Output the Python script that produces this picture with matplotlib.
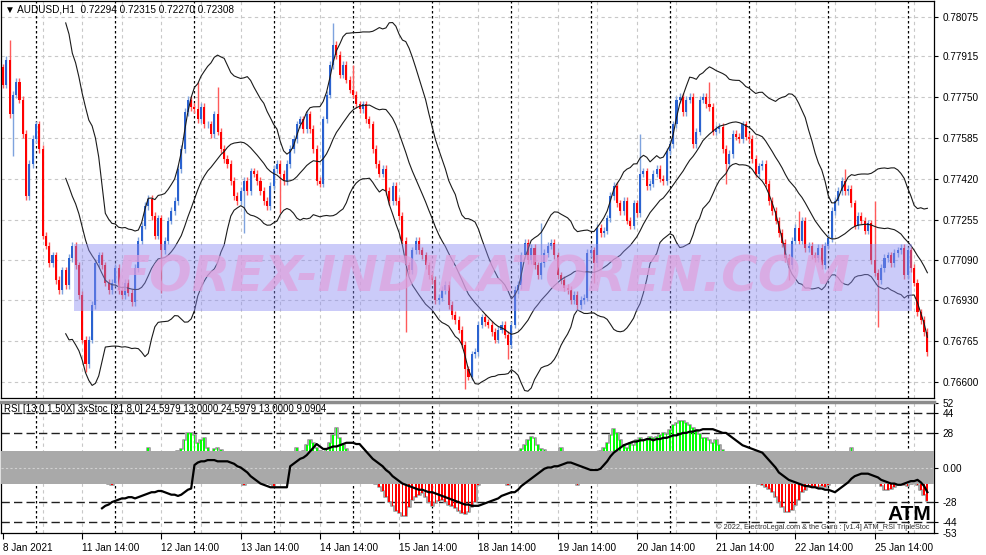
import numpy as np
import pandas as pd
import matplotlib
matplotlib.use("Agg")
import matplotlib.pyplot as plt
from matplotlib.patches import Rectangle

plt.rcParams['font.family'] = ['Liberation Sans', 'DejaVu Sans']

# ---- values (AUDUSD H1, one close per bar) ----
closes = [
    0.7780, 0.7790, 0.7768, 0.7776, 0.7781, 0.7774, 0.7760, 0.7735, 0.7748, 0.7758,
    0.7764, 0.7754, 0.7719, 0.7715, 0.7708, 0.7711, 0.7701, 0.7697, 0.7705, 0.7699,
    0.7710, 0.7715, 0.7707, 0.7695, 0.7677, 0.7667, 0.7677, 0.7691, 0.7708, 0.7711,
    0.7707, 0.7700, 0.7697, 0.7700, 0.7706, 0.7697, 0.7695, 0.7700, 0.7696, 0.7692,
    0.7706, 0.7717, 0.7723, 0.7731, 0.7734, 0.7727, 0.7719, 0.7726, 0.7713, 0.7717,
    0.7725, 0.7729, 0.7733, 0.7746, 0.7754, 0.7769, 0.7774, 0.7771, 0.7770, 0.7766,
    0.7771, 0.7764, 0.7764, 0.7760, 0.7768, 0.7761, 0.7754, 0.7750, 0.7748, 0.7741,
    0.7735, 0.7733, 0.7737, 0.7741, 0.7737, 0.7745, 0.7744, 0.7741, 0.7737, 0.7733,
    0.7731, 0.7739, 0.7746, 0.7748, 0.7744, 0.7741, 0.7748, 0.7754, 0.7758, 0.7764,
    0.7766, 0.7762, 0.7768, 0.7762, 0.7754, 0.7741, 0.7740, 0.7766, 0.7776, 0.7788,
    0.7796, 0.7792, 0.7784, 0.7788, 0.7782, 0.7778, 0.7776, 0.7772, 0.7770, 0.7772,
    0.7766, 0.7764, 0.7754, 0.7748, 0.7744, 0.7746, 0.7737, 0.7733, 0.7739, 0.7733,
    0.7727, 0.7717, 0.7707, 0.7705, 0.7713, 0.7717, 0.7713, 0.7711, 0.7707, 0.7703,
    0.7701, 0.7693, 0.7694, 0.7697, 0.7699, 0.7691, 0.7687, 0.7685, 0.7681, 0.7675,
    0.7665,
    0.7662, 0.7671, 0.7672, 0.7683, 0.7686, 0.7684, 0.7683, 0.7680, 0.7677, 0.7681,
    0.7683, 0.7679, 0.7675, 0.7683, 0.7697, 0.7699, 0.7711, 0.7716, 0.7709, 0.7714,
    0.7707, 0.7703, 0.7708, 0.7712, 0.7715, 0.7716, 0.7711, 0.7703, 0.7701, 0.7698,
    0.7697, 0.7693, 0.7695, 0.7691, 0.7693, 0.7694, 0.7712, 0.7713, 0.7708, 0.7722,
    0.7720, 0.7721, 0.7726, 0.7735, 0.7739, 0.7732, 0.7729, 0.7733, 0.7725, 0.7723,
    0.7732, 0.7728, 0.7744, 0.7745, 0.7739, 0.7740, 0.7744, 0.7746, 0.7742, 0.7741,
    0.7753, 0.7756, 0.7764, 0.7774, 0.7775, 0.7769, 0.7774, 0.7775, 0.7756, 0.7761,
    0.7774, 0.7775, 0.7772, 0.7771, 0.7761, 0.7762, 0.7763, 0.7754, 0.7748, 0.7752,
    0.7760, 0.7759, 0.7758, 0.7764, 0.7759, 0.7758, 0.7750, 0.7744, 0.7747, 0.7748,
    0.7740, 0.7733, 0.7729, 0.7725, 0.7720, 0.7716, 0.7710, 0.7707, 0.7717, 0.7722,
    0.7717, 0.7725, 0.7714, 0.7715, 0.7711, 0.7710, 0.7714, 0.7707, 0.7715, 0.7718,
    0.7729, 0.7733, 0.7737, 0.7741, 0.7737, 0.7738, 0.7732, 0.7723, 0.7727, 0.7725,
    0.7721, 0.7724, 0.7709, 0.7704, 0.7701, 0.7706, 0.7710, 0.7711, 0.7708, 0.7712,
    0.7713, 0.7714, 0.7703, 0.7713, 0.7706, 0.7700, 0.7688, 0.7685, 0.7680, 0.7672,
]
first_open = 0.7787

# long wicks that stand out (bar index -> extreme)
high_wicks = {2: 0.7798, 59: 0.7781, 65: 0.7779, 100: 0.7805, 106: 0.7788,
              163: 0.7724, 193: 0.7760, 214: 0.7781, 241: 0.7729, 255: 0.7746,
              264: 0.7733}
low_wicks = {3: 0.7751, 25: 0.7664, 48: 0.7696, 73: 0.7720, 84: 0.7728,
             122: 0.7680, 140: 0.7657, 153: 0.7669, 179: 0.7700, 219: 0.7740,
             238: 0.7701, 265: 0.7682}

# RSI histogram of the lower window
osc_hist = [np.nan] * 14 + [
    -4, -6, -8, -9, -10, -8, -6, -5, -7, -9,
    -10, -11, -12, -11, -10, -9, -11, -12, -13, -14,
    -12, -10, -8, -6, -4, -2, 2, 5, 8, 10,
    16, 11, 9, 10, 11, 12, 12, 11, 12, 13,
    15, 22, 28, 28, 26, 20, 22, 24, 16, 12,
    15, 16, 14, 10, 6, 2, -3, -8, -12, -14,
    -12, -10, -11, -12, -10, -11, -12, -13, -15, -12,
    -8, -4, 2, 8, 12, 16, 12, 13, 18, 22,
    20, 16, 13, 12, 15, 20, 26, 32, 24, 18,
    15, 12, 8, 4, -2, -6, -9, -11, -12, -13,
    -16, -19, -24, -28, -31, -35, -37, -39, -39, -32,
    -26, -24, -22, -21, -24, -28, -31, -29, -27, -26,
    -28, -30, -31, -33, -35, -37, -38, -36, -32, -28,
    -14, -12, -10, -11, -12, -10, -8, -10, -12, -14,
    -10, -6, -2, 15, 18, 22, 25, 24, 18, 15,
    14, 12, 10, 8, 11, 16, 12, 9, 6, 2,
    -14, -6, -3, 2, 6, 9, 12, 13, 16, 20,
    26, 31, 28, 22, 18, 16, 20, 18, 22, 24,
    22, 22, 25, 24, 25, 26, 28, 27, 30, 34,
    36, 38, 38, 36, 34, 32, 30, 27, 24, 24,
    22, 20, 22, 18, 14, 11, 8, 5, 3, 0,
    -3, -5, -8, -10, -12, -13, -14, -16, -17, -20,
    -24, -28, -32, -36, -36, -34, -30, -26, -20, -18,
    -16, -15, -16, -16, -15, -16, -14, -12, -10, -8,
    -5, -2, 4, 16, 10, 6, 3, 0, -3, -6,
    -9, -12, -15, -18, -18, -17, -16, -13, -12, -14,
    -15, -13, -12, -14, -18, -22, -27,
]

# 3xStoc line of the lower window
osc_line = [np.nan] * 30 + [
    -33, -31, -30, -28, -27, -26, -25, -25, -24, -24,
    -25, -24, -23, -22, -21, -20, -20, -19, -19, -20,
    -21, -22, -22, -23, -22, -20, -18, -17, 2, 4,
    5, 5, 6, 6, 6, 5, 5, 5, 5, 4,
    3, 1, 0, -2, -4, -7, -9, -11, -13, -14,
    -15, -16, -16, -16, -16, -16, -16, 1, 3, 5,
    7, 8, 10, 13, 16, 19, 17, 15, 15, 16,
    17, 17, 18, 19, 20, 20, 20, 19, 19, 16,
    13, 10, 7, 5, 3, 1, -2, -4, -7, -9,
    -11, -13, -14, -15, -16, -17, -18, -18, -19, -20,
    -20, -21, -22, -23, -24, -25, -26, -27, -28, -29,
    -30, -30, -31, -31, -31, -30, -29, -28, -27, -26,
    -25, -23, -22, -21, -20, -20, -18, -15, -13, -11,
    -9, -7, -5, -3, -1, 0, 0, 1, 1, 2,
    3, 4, 4, 3, 2, 1, 0, -1, -2, -2,
    -2, -1, 2, 5, 9, 12, 14, 16, 18, 19,
    20, 21, 21, 22, 22, 23, 23, 22, 23, 23,
    24, 24, 25, 26, 26, 27, 28, 28, 29, 29,
    30, 30, 31, 31, 31, 31, 30, 29, 28, 28,
    26, 24, 22, 20, 18, 17, 16, 15, 14, 13,
    12, 9, 6, 3, 0, -4, -6, -8, -10, -11,
    -12, -13, -14, -15, -15, -16, -16, -17, -17, -18,
    -18, -19, -20, -18, -16, -14, -12, -9, -7, -6,
    -5, -5, -5, -6, -7, -8, -10, -11, -12, -13,
    -13, -14, -14, -13, -12, -11, -11, -10, -12, -15,
    -20,
]

date_labels = ["8 Jan 2021", "11 Jan 14:00", "12 Jan 14:00", "13 Jan 14:00",
               "14 Jan 14:00", "15 Jan 14:00", "18 Jan 14:00", "19 Jan 14:00",
               "20 Jan 14:00", "21 Jan 14:00", "22 Jan 14:00", "25 Jan 14:00"]
price_ticks = [0.78075, 0.77915, 0.77750, 0.77585, 0.77420,
               0.77255, 0.77090, 0.76930, 0.76765, 0.76600]
osc_ticks = [52, 44, 28, 0, -28, -44, -53]
osc_tick_labels = ["52", "44", "28", "0.00", "-28", "-44", "-53"]

# ---- candles + bollinger bands ----
n = len(closes)
idx = np.arange(n)
c = np.array(closes)
o = np.r_[first_open, c[:-1]]
hi = np.maximum(o, c) + 0.00015
lo = np.minimum(o, c) - 0.00015
for k, v in high_wicks.items():
    hi[k] = max(hi[k], v)
for k, v in low_wicks.items():
    lo[k] = min(lo[k], v)

s = pd.Series(c)
bb_mid = s.rolling(20).mean()
bb_sd = s.rolling(20).std(ddof=0)
bb_up = bb_mid + 2 * bb_sd
bb_dn = bb_mid - 2 * bb_sd

W, H = 987, 555
fig = plt.figure(figsize=(W / 100, H / 100), dpi=100, facecolor='white')


def box(x0, y0, x1, y1):
    return [x0 / W, 1 - y1 / H, (x1 - x0) / W, (y1 - y0) / H]


ax = fig.add_axes(box(1, 1, 934, 398))
ax2 = fig.add_axes(box(1, 402, 934, 533))

for a in (ax, ax2):
    a.set_xlim(-0.6, 282)
    for b in range(12, n + 3, 12):
        a.axvline(b, color='#c8c8c8', lw=0.8, ls=(0, (3, 3)), zorder=0)
    for b in range(10, n, 24):
        a.axvline(b, color='black', lw=0.9, ls=(0, (2, 2)), zorder=1)
    for sp in a.spines.values():
        sp.set_color('black')
        sp.set_linewidth(0.9)

# main window
for p in price_ticks:
    ax.axhline(p, color='#c8c8c8', lw=0.8, ls=(0, (3, 3)), zorder=0)
up = c >= o
ax.vlines(idx, lo, hi, colors=np.where(up, '#7ea3de', '#ff5a5a'), lw=1, zorder=2)
ax.bar(idx, np.maximum(np.abs(c - o), 0.00003), bottom=np.minimum(o, c), width=0.62,
       color=np.where(up, '#2a62d0', '#ff0000'), linewidth=0, zorder=3)
for band in (bb_up, bb_mid, bb_dn):
    ax.plot(idx, band, color='#1a1a1a', lw=0.8, zorder=4)

ax.set_ylim(0.76534, 0.78138)
ax.yaxis.tick_right()
ax.set_yticks(price_ticks)
ax.set_yticklabels([f"{p:.5f}" for p in price_ticks])
ax.tick_params(axis='y', length=3, pad=3, labelsize=7.2)
ax.set_xticks(range(0, n, 24))
ax.tick_params(axis='x', length=0, labelbottom=False)

# lower window
hv = np.array(osc_hist, float)
ax2.plot(idx, hv, color='#a0a0a0', lw=1.3, drawstyle='steps-mid', zorder=2)
ax2.bar(idx, hv, width=0.55, color=np.where(hv > 0, '#00ff00', '#ff0000'),
        linewidth=0, zorder=2.5)
ax2.axhspan(-13, 13, color='#a9a9a9', lw=0, zorder=3)
ax2.axhline(0, color='#d0d0d0', lw=0.8, ls=(0, (2, 2)), zorder=3.2)
for lv in (44, 28, -28, -44):
    ax2.axhline(lv, color='#202020', lw=1, ls=(0, (6, 3)), zorder=1.5)
ax2.plot(idx, osc_line, color='black', lw=1.6, zorder=4)

ax2.set_ylim(-53, 53)
ax2.yaxis.tick_right()
ax2.set_yticks(osc_ticks)
ax2.set_yticklabels(osc_tick_labels)
ax2.tick_params(axis='y', length=3, pad=3, labelsize=7.2)
ax2.set_xticks(range(0, n, 24))
ax2.set_xticklabels(date_labels, ha='left')
ax2.tick_params(axis='x', length=4, pad=3, labelsize=7.2)
ax2.spines['top'].set_color('#8c8c8c')
ax2.spines['top'].set_linewidth(2.5)

# texts
fig.text(5 / W, 1 - 10 / H, "\u25bc AUDUSD,H1  0.72294 0.72315 0.72270 0.72308",
         fontsize=7.2, va='center')
fig.text(4 / W, 1 - 409 / H,
         "RSI [13,0,1.50X] 3xStoc [21,8,0] 24.5979 13.0000 24.5979 13.0000 9.0904",
         fontsize=7, va='center')
fig.text(931 / W, 1 - 514 / H, "ATM", fontsize=15, fontweight='bold',
         ha='right', va='center')
fig.text(930 / W, 1 - 527 / H,
         "\u00a9 2022, ElectroLegal.com & the Guru : [v1.4] ATM_RSI TripleStoc",
         fontsize=5.3, ha='right', va='center', color='#303030')

# watermark
fig.add_artist(Rectangle((74 / W, 1 - 311 / H), (912 - 74) / W, 67 / H,
                         transform=fig.transFigure, color='#8c8cf2', alpha=0.45, lw=0))
fig.text(484 / W, 1 - 278 / H, "FOREX-INDIKATOREN.COM", fontsize=36,
         family='DejaVu Sans', fontweight='bold', style='italic',
         color='#e0a0dc', alpha=0.7, ha='center', va='center')

fig.savefig('out.png', dpi=100, facecolor='white')
